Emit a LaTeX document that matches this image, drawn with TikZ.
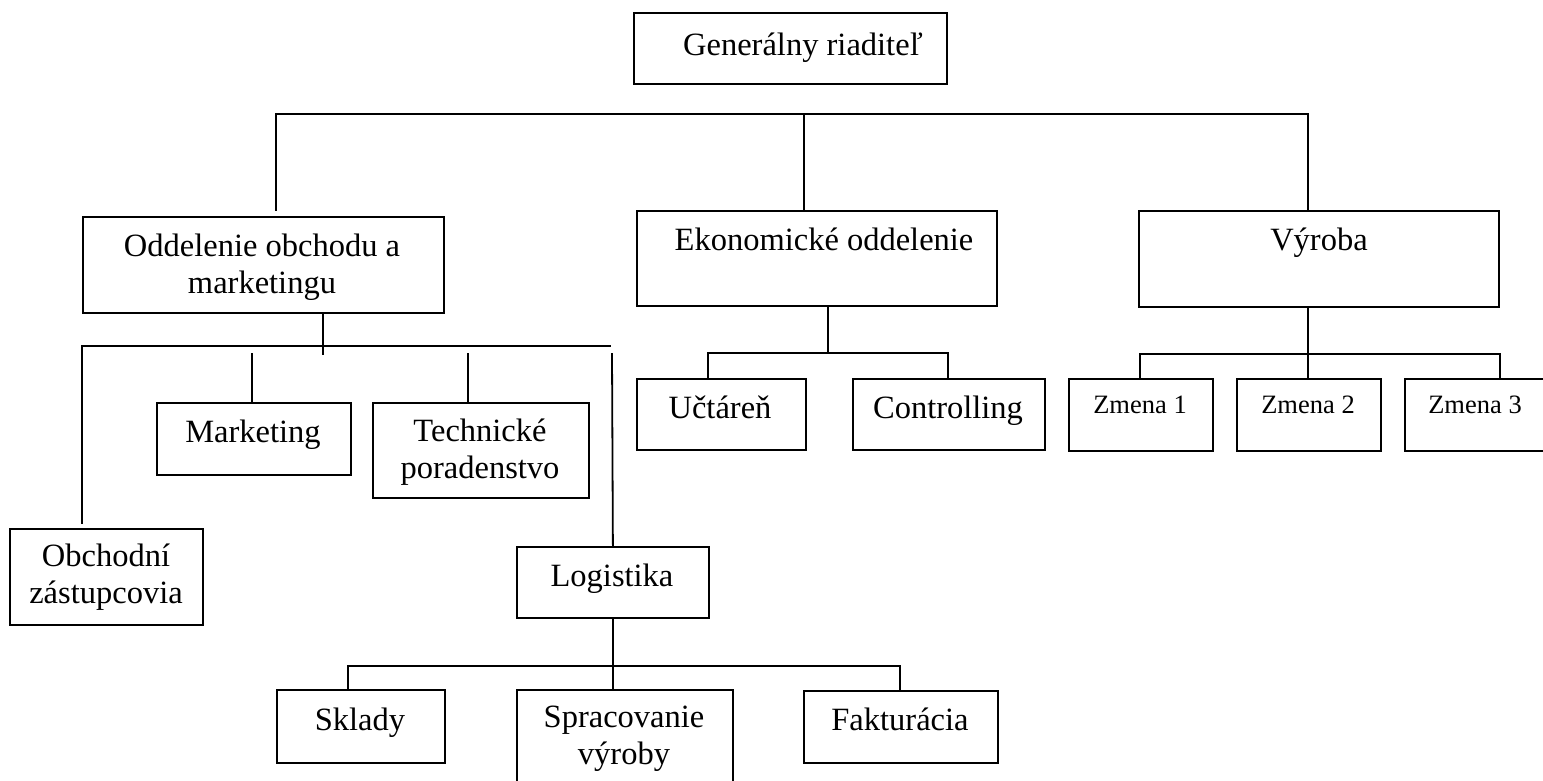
\documentclass[tikz,border=0pt]{standalone}
\usepackage{fontspec}
\setmainfont{Liberation Serif}
\begin{document}
\begin{tikzpicture}[x=1pt,y=-1pt,
  box/.style={draw=black,line width=1.8pt,fill=white,inner sep=0pt,anchor=north west},
  lbl/.style={inner sep=0pt,anchor=base,align=center,font=\fontsize{32.5}{37}\selectfont},
  slbl/.style={inner sep=0pt,anchor=base,align=center,font=\fontsize{26.5}{30}\selectfont},
  conn/.style={draw=black,line width=1.8pt,line cap=rect}]
\clip (0,0) rectangle (1543,780);
% boxes
\node[box,minimum width=313pt,minimum height=71pt] (gr) at (633,12) {};
\node[box,minimum width=361pt,minimum height=96pt] (odd) at (82,216) {};
\node[box,minimum width=360pt,minimum height=95pt] (eko) at (636,210) {};
\node[box,minimum width=360pt,minimum height=96pt] (vyr) at (1138,210) {};
\node[box,minimum width=169pt,minimum height=71pt] (uct) at (636,378) {};
\node[box,minimum width=192pt,minimum height=71pt] (con) at (852,378) {};
\node[box,minimum width=144pt,minimum height=72pt] (z1) at (1068,378) {};
\node[box,minimum width=144pt,minimum height=72pt] (z2) at (1236,378) {};
\node[box,minimum width=142pt,minimum height=72pt] (z3) at (1404,378) {};
\node[box,minimum width=194pt,minimum height=72pt] (mkt) at (156,402) {};
\node[box,minimum width=216pt,minimum height=95pt] (tech) at (372,402) {};
\node[box,minimum width=193pt,minimum height=96pt] (obch) at (9,528) {};
\node[box,minimum width=192pt,minimum height=71pt] (log) at (516,546) {};
\node[box,minimum width=168pt,minimum height=73pt] (skl) at (276,689) {};
\node[box,minimum width=216pt,minimum height=110pt] (spr) at (516,689) {};
\node[box,minimum width=194pt,minimum height=72pt] (fak) at (803,690) {};
% texts (two-line nodes are anchored at the baseline of their last line)
\node[lbl] (grt) at (803,55) {Generálny riaditeľ};
\node[lbl] (oddt) at (262,293) {Oddelenie obchodu a\\marketingu};
\node[lbl] (ekot) at (824,250) {Ekonomické oddelenie};
\node[lbl] (vyrt) at (1319,250) {Výroba};
\node[lbl] (uctt) at (720,418) {Učtáreň};
\node[lbl] (cont) at (948,418) {Controlling};
\node[slbl] (z1t) at (1140,413) {Zmena 1};
\node[slbl] (z2t) at (1308,413) {Zmena 2};
\node[slbl] (z3t) at (1475,413) {Zmena 3};
\node[lbl] (mktt) at (253,442) {Marketing};
\node[lbl] (techt) at (480,478) {Technické\\poradenstvo};
\node[lbl] (obcht) at (106,603) {Obchodní\\zástupcovia};
\node[lbl] (logt) at (612,586) {Logistika};
\node[lbl] (sklt) at (360,730) {Sklady};
\node[lbl] (sprt) at (624,764) {Spracovanie\\výroby};
\node[lbl] (fakt) at (900,730) {Fakturácia};
% junction coordinates
\coordinate (bL) at (276,114);
\coordinate (bM) at (804,114);
\coordinate (bR) at (1308,114);
\coordinate (oL) at (82,346);
\coordinate (oR) at (610,346);
\coordinate (oJ) at (323,354);
\coordinate (eJ) at (828,353);
\coordinate (vJ) at (1308,354);
\coordinate (lJ) at (612,666);
% top level
\draw[conn] (bL |- odd.north) ++(0,-6) -- (bL) -- (bR) -- (vyr.north -| bR);
\draw[conn] (bM) -- (eko.north -| bM);
% Oddelenie branch
\draw[conn] (odd.south -| oJ) -- (oJ);
\draw[conn] (oL) -- (oR);
\draw[conn] (oL) -- ([yshift=5pt]obch.north -| oL);
\draw[conn] (mkt.north -| 252,0) -- (252,354);
\draw[conn] (tech.north -| 468,0) -- (468,354);
\draw[conn] (log.north) -- (612,354);
% Logistika branch
\draw[conn] (log.south) -- (spr.north -| log.south);
\draw[conn] (skl.north -| 348,0) -- (348,666) -- (900,666) -- (fak.north -| 900,0);
% Ekonomicke branch
\draw[conn] (eko.south -| eJ) -- (eJ);
\draw[conn] (uct.north -| 708,0) -- (708,353) -- (948,353) -- (con.north -| 948,0);
% Vyroba branch
\draw[conn] (vyr.south -| vJ) -- (z2.north -| vJ);
\draw[conn] (z1.north -| 1140,0) -- (1140,354) -- (1500,354) -- (z3.north -| 1500,0);
\end{tikzpicture}
\end{document}
